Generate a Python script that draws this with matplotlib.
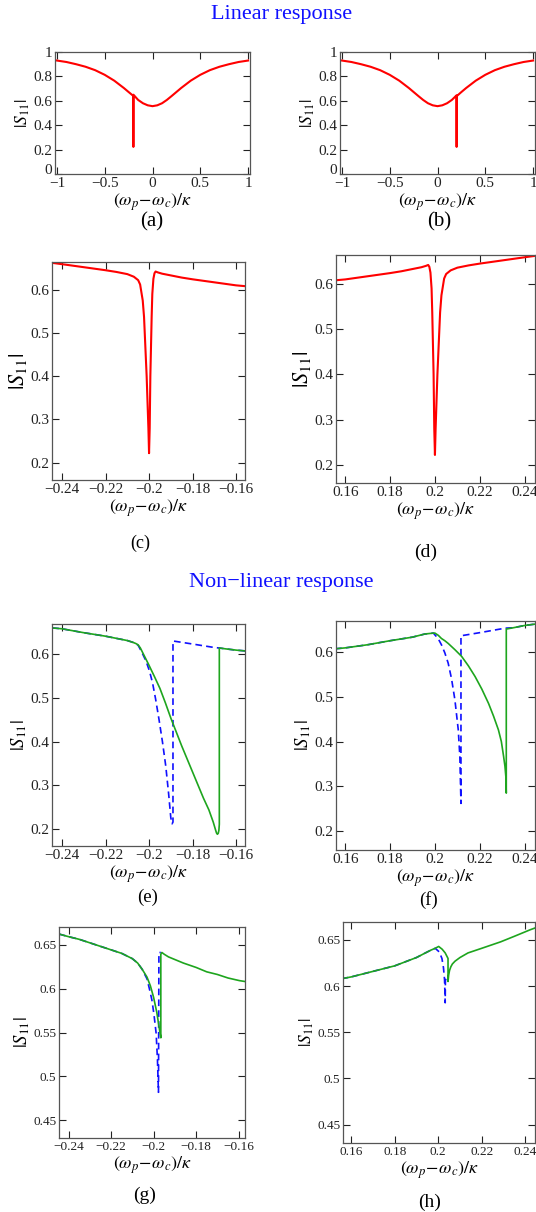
import matplotlib.pyplot as plt

# ---- data ----
# (a) linear response, wide scan, narrow dip at -0.2
xa = [-1.0, -0.9, -0.8, -0.7, -0.6, -0.5, -0.4, -0.3, -0.25, -0.2005, -0.2, -0.1995,
      -0.15, -0.1, -0.05, 0.0, 0.05, 0.1, 0.15, 0.2, 0.25, 0.3, 0.4, 0.5, 0.6, 0.7, 0.8, 0.9, 1.0]
sa = [0.93, 0.918, 0.90, 0.879, 0.851, 0.813, 0.765, 0.705, 0.672, 0.64, 0.222, 0.65,
      0.607, 0.580, 0.563, 0.556, 0.563, 0.580, 0.607, 0.639, 0.672, 0.705, 0.765, 0.813, 0.851, 0.879, 0.90, 0.918, 0.93]

# (b) linear response, wide scan, narrow dip at +0.2
xb = [-1.0, -0.9, -0.8, -0.7, -0.6, -0.5, -0.4, -0.3, -0.25, -0.2, -0.15, -0.1, -0.05, 0.0,
      0.05, 0.1, 0.15, 0.1995, 0.2, 0.2005, 0.25, 0.3, 0.4, 0.5, 0.6, 0.7, 0.8, 0.9, 1.0]
sb = [0.93, 0.918, 0.90, 0.879, 0.851, 0.813, 0.765, 0.705, 0.672, 0.639, 0.607, 0.580, 0.563, 0.556,
      0.563, 0.580, 0.607, 0.645, 0.222, 0.638, 0.672, 0.705, 0.765, 0.813, 0.851, 0.879, 0.90, 0.918, 0.93]

# (c) zoom on the dip at -0.2
xc = [-0.2445, -0.24, -0.23, -0.22, -0.215, -0.21, -0.207, -0.205, -0.2041, -0.2029, -0.2023,
      -0.2011, -0.2003, -0.2, -0.1997, -0.1994, -0.1988, -0.1985, -0.198, -0.1975, -0.197,
      -0.196, -0.194, -0.19, -0.185, -0.18, -0.17, -0.16, -0.1555]
sc = [0.662, 0.659, 0.652, 0.645, 0.641, 0.636, 0.630, 0.622, 0.612, 0.575, 0.537,
      0.40, 0.28, 0.222, 0.28, 0.40, 0.537, 0.59, 0.625, 0.638, 0.642,
      0.640, 0.637, 0.633, 0.628, 0.624, 0.617, 0.610, 0.608]

# (d) zoom on the dip at +0.2
xd = [0.1555, 0.16, 0.17, 0.18, 0.185, 0.19, 0.194, 0.196, 0.197, 0.1975, 0.198, 0.1985,
      0.1988, 0.1994, 0.1997, 0.2, 0.2003, 0.2011, 0.2023, 0.2029, 0.2041, 0.205, 0.207,
      0.21, 0.215, 0.22, 0.23, 0.24, 0.2445]
sd = [0.608, 0.610, 0.617, 0.624, 0.628, 0.633, 0.637, 0.640, 0.642, 0.638, 0.625, 0.59,
      0.537, 0.40, 0.28, 0.222, 0.28, 0.40, 0.537, 0.575, 0.612, 0.622, 0.630,
      0.636, 0.641, 0.645, 0.652, 0.659, 0.662]

# (e) non-linear, dip at -0.2: solid green and dashed blue
xe_g = [-0.2445, -0.24, -0.23, -0.22, -0.21, -0.2075, -0.206, -0.205, -0.204, -0.203, -0.2015,
        -0.2, -0.1975, -0.195, -0.1925, -0.19, -0.185, -0.18, -0.175, -0.1725, -0.1705,
        -0.1695, -0.169, -0.1686, -0.1682, -0.1679, -0.1677, -0.1677, -0.165, -0.16, -0.1555]
se_g = [0.661, 0.659, 0.650, 0.642, 0.632, 0.628, 0.625, 0.622, 0.615, 0.605, 0.59,
        0.575, 0.549, 0.522, 0.489, 0.454, 0.39, 0.33, 0.27, 0.243, 0.215,
        0.198, 0.19, 0.187, 0.189, 0.196, 0.21, 0.615, 0.613, 0.610, 0.608]
xe_b = [-0.2445, -0.24, -0.23, -0.22, -0.21, -0.2075, -0.206, -0.205, -0.2035, -0.2014, -0.1998,
        -0.1984, -0.197, -0.1954, -0.1938, -0.1923, -0.191, -0.19, -0.1894, -0.189, -0.189,
        -0.18, -0.17, -0.168, -0.165, -0.16, -0.1555]
se_b = [0.661, 0.659, 0.650, 0.642, 0.632, 0.628, 0.625, 0.621, 0.607, 0.585, 0.562,
        0.535, 0.498, 0.45, 0.398, 0.343, 0.28, 0.225, 0.211, 0.215, 0.631,
        0.624, 0.616, 0.615, 0.613, 0.610, 0.608]

# (f) non-linear, dip at +0.2
xf_g = [0.1555, 0.16, 0.17, 0.18, 0.19, 0.1955, 0.1993, 0.2, 0.2015, 0.2029, 0.2044, 0.2059,
        0.2089, 0.2119, 0.2149, 0.2179, 0.2209, 0.2239, 0.2261, 0.2283, 0.2296, 0.2306,
        0.2312, 0.2316, 0.2318, 0.2318, 0.235, 0.24, 0.2445]
sf_g = [0.607, 0.609, 0.616, 0.625, 0.633, 0.640, 0.642, 0.642, 0.637, 0.630, 0.625, 0.619,
        0.605, 0.590, 0.569, 0.545, 0.517, 0.485, 0.457, 0.426, 0.400, 0.367,
        0.345, 0.322, 0.285, 0.651, 0.654, 0.659, 0.662]
xf_b = [0.1555, 0.16, 0.17, 0.18, 0.19, 0.1955, 0.1993, 0.2014, 0.2029, 0.2044, 0.2059, 0.2074,
        0.2089, 0.2104, 0.2111, 0.2116, 0.2116, 0.22, 0.2313, 0.235, 0.24, 0.2445]
sf_b = [0.607, 0.609, 0.616, 0.625, 0.633, 0.640, 0.642, 0.630, 0.616, 0.598, 0.575, 0.540,
        0.493, 0.426, 0.367, 0.262, 0.636, 0.643, 0.653, 0.654, 0.659, 0.662]

# (g) weaker drive, dip at -0.2
xg_g = [-0.2445, -0.24, -0.235, -0.23, -0.225, -0.22, -0.215, -0.21, -0.2075, -0.2054, -0.2031,
        -0.2015, -0.2, -0.1985, -0.1972, -0.1966, -0.1966, -0.1961, -0.195, -0.193, -0.19,
        -0.186, -0.18, -0.175, -0.17, -0.165, -0.1596, -0.157]
sg_g = [0.662, 0.659, 0.656, 0.652, 0.648, 0.644, 0.640, 0.634, 0.629, 0.622, 0.613,
        0.603, 0.590, 0.573, 0.553, 0.544, 0.639, 0.641, 0.639, 0.636, 0.633,
        0.629, 0.624, 0.619, 0.616, 0.612, 0.609, 0.608]
xg_b = [-0.2445, -0.24, -0.235, -0.23, -0.225, -0.22, -0.215, -0.21, -0.2075, -0.2054, -0.2031,
        -0.202, -0.2008, -0.1998, -0.1988, -0.1982, -0.1977, -0.1975, -0.1966]
sg_b = [0.662, 0.659, 0.656, 0.652, 0.648, 0.644, 0.640, 0.634, 0.629, 0.622, 0.611,
        0.600, 0.587, 0.570, 0.549, 0.52, 0.482, 0.641, 0.641]

# (h) weaker drive, dip at +0.2
xh_g = [0.1555, 0.16, 0.17, 0.18, 0.19, 0.1941, 0.1966, 0.1986, 0.2002, 0.2018, 0.2032, 0.2045,
        0.2045, 0.2048, 0.2052, 0.2058, 0.2065, 0.2077, 0.21, 0.2137, 0.22, 0.2287, 0.235,
        0.2422, 0.2445]
sh_g = [0.608, 0.610, 0.616, 0.622, 0.631, 0.636, 0.639, 0.641, 0.643, 0.640, 0.636, 0.630,
        0.605, 0.612, 0.617, 0.621, 0.624, 0.627, 0.631, 0.636, 0.641, 0.648, 0.654,
        0.661, 0.663]
xh_b = [0.1555, 0.16, 0.17, 0.18, 0.19, 0.1941, 0.1966, 0.1986, 0.2005, 0.2017, 0.2024,
        0.2029, 0.2032, 0.2033, 0.2041]
sh_b = [0.608, 0.610, 0.616, 0.622, 0.631, 0.636, 0.639, 0.641, 0.637, 0.630, 0.620,
        0.607, 0.582, 0.606, 0.612]

# ticks
wide_ticks = [-1, -0.5, 0, 0.5, 1]
wide_labels = ['\u22121', '\u22120.5', '0', '0.5', '1']
wide_yticks = [0, 0.2, 0.4, 0.6, 0.8, 1]
wide_ylabels = ['0', '0.2', '0.4', '0.6', '0.8', '1']
neg_ticks = [-0.24, -0.22, -0.2, -0.18, -0.16]
neg_labels = ['\u22120.24', '\u22120.22', '\u22120.2', '\u22120.18', '\u22120.16']
pos_ticks = [0.16, 0.18, 0.2, 0.22, 0.24]
pos_labels = ['0.16', '0.18', '0.2', '0.22', '0.24']
zoom_yticks = [0.2, 0.3, 0.4, 0.5, 0.6]
zoom_ylabels = ['0.2', '0.3', '0.4', '0.5', '0.6']
fine_yticks = [0.45, 0.5, 0.55, 0.6, 0.65]
fine_ylabels = ['0.45', '0.5', '0.55', '0.6', '0.65']

plt.rcParams['font.family'] = ['Liberation Serif', 'DejaVu Serif']
plt.rcParams['mathtext.fontset'] = 'stix'

RED = '#ff0000'
GREEN = '#1ea51e'
BLUE = '#1010ff'
DASH = (0, (4, 2.5))

fig = plt.figure(figsize=(5.36, 12.12), dpi=100)


def add_ax(l, t, r, b):
    # pixel box -> figure fraction
    return fig.add_axes([l / 536, 1 - b / 1212, (r - l) / 536, (b - t) / 1212])


def style(ax, xlim, ylim, xt, xtl, yt, ytl, fs, ylab_fs):
    ax.set_xlim(xlim)
    ax.set_ylim(ylim)
    ax.set_xticks(xt, xtl)
    ax.set_yticks(yt, ytl)
    ax.tick_params(direction='in', top=True, right=True, length=5, width=0.8,
                   labelsize=fs, pad=2, colors='#222222')
    for s in ax.spines.values():
        s.set_color('#555555')
        s.set_linewidth(0.9)
    ax.set_xlabel(r'$(\omega_p\!-\!\omega_c)/\kappa$', fontsize=13, labelpad=1)
    ax.set_ylabel(r'$|S_{11}|$', fontsize=ylab_fs, labelpad=1)


# linear response
ax = add_ax(55, 52, 250, 174)
ax.plot(xa, sa, color=RED, lw=1.5)
style(ax, (-1.02, 1.02), (0, 1), wide_ticks, wide_labels, wide_yticks, wide_ylabels, 11, 12.5)
ax.get_yticklabels()[0].set_verticalalignment('baseline')

ax = add_ax(340, 52, 535, 174)
ax.plot(xb, sb, color=RED, lw=1.5)
style(ax, (-1.02, 1.02), (0, 1), wide_ticks, wide_labels, wide_yticks, wide_ylabels, 11, 12.5)
ax.get_yticklabels()[0].set_verticalalignment('baseline')

ax = add_ax(52, 262, 245, 480)
ax.plot(xc, sc, color=RED, lw=1.5)
style(ax, (-0.2446, -0.1559), (0.16, 0.664), neg_ticks, neg_labels, zoom_yticks, zoom_ylabels, 11, 16)

ax = add_ax(336, 255, 535, 483)
ax.plot(xd, sd, color=RED, lw=1.5)
style(ax, (0.1559, 0.2446), (0.16, 0.664), pos_ticks, pos_labels, zoom_yticks, zoom_ylabels, 11, 16)

# non-linear response
ax = add_ax(52, 624, 245, 846)
ax.plot(xe_b, se_b, color=BLUE, lw=1.2, ls=DASH)
ax.plot(xe_g, se_g, color=GREEN, lw=1.2)
style(ax, (-0.2446, -0.1559), (0.16, 0.67), neg_ticks, neg_labels, zoom_yticks, zoom_ylabels, 11, 13.5)

ax = add_ax(336, 621, 535, 850)
ax.plot(xf_b, sf_b, color=BLUE, lw=1.2, ls=DASH)
ax.plot(xf_g, sf_g, color=GREEN, lw=1.2)
style(ax, (0.1559, 0.2446), (0.158, 0.669), pos_ticks, pos_labels, zoom_yticks, zoom_ylabels, 11, 13.5)

ax = add_ax(59, 927, 245, 1138)
ax.plot(xg_b, sg_b, color=BLUE, lw=1.2, ls=DASH)
ax.plot(xg_g, sg_g, color=GREEN, lw=1.2)
style(ax, (-0.2445, -0.157), (0.43, 0.67), neg_ticks, neg_labels, fine_yticks, fine_ylabels, 9.5, 13.5)

ax = add_ax(343, 922, 535, 1143)
ax.plot(xh_b, sh_b, color=BLUE, lw=1.2, ls=DASH)
ax.plot(xh_g, sh_g, color=GREEN, lw=1.2)
style(ax, (0.1562, 0.2445), (0.43, 0.6695), pos_ticks, pos_labels, fine_yticks, fine_ylabels, 9.5, 12.5)

# headings and panel tags
fig.text(0.525, 1 - 14 / 1212, 'Linear response', color=BLUE, fontsize=16, ha='center', va='center')
fig.text(0.525, 1 - 582 / 1212, 'Non\u2212linear response', color=BLUE, fontsize=16, ha='center', va='center')
tags = ['(a)', '(b)', '(c)', '(d)', '(e)', '(f)', '(g)', '(h)']
tag_x = [152, 439, 140, 426, 148, 428, 145, 430]
tag_y = [222, 222, 543, 552, 897, 900, 1195, 1202]
tag_fs = [15, 15, 13, 14, 13.5, 13.5, 14, 14]
for t, x, y, f in zip(tags, tag_x, tag_y, tag_fs):
    fig.text(x / 536, 1 - y / 1212, t, fontsize=f, ha='center', va='center')

fig.savefig('out.png', dpi=100)
